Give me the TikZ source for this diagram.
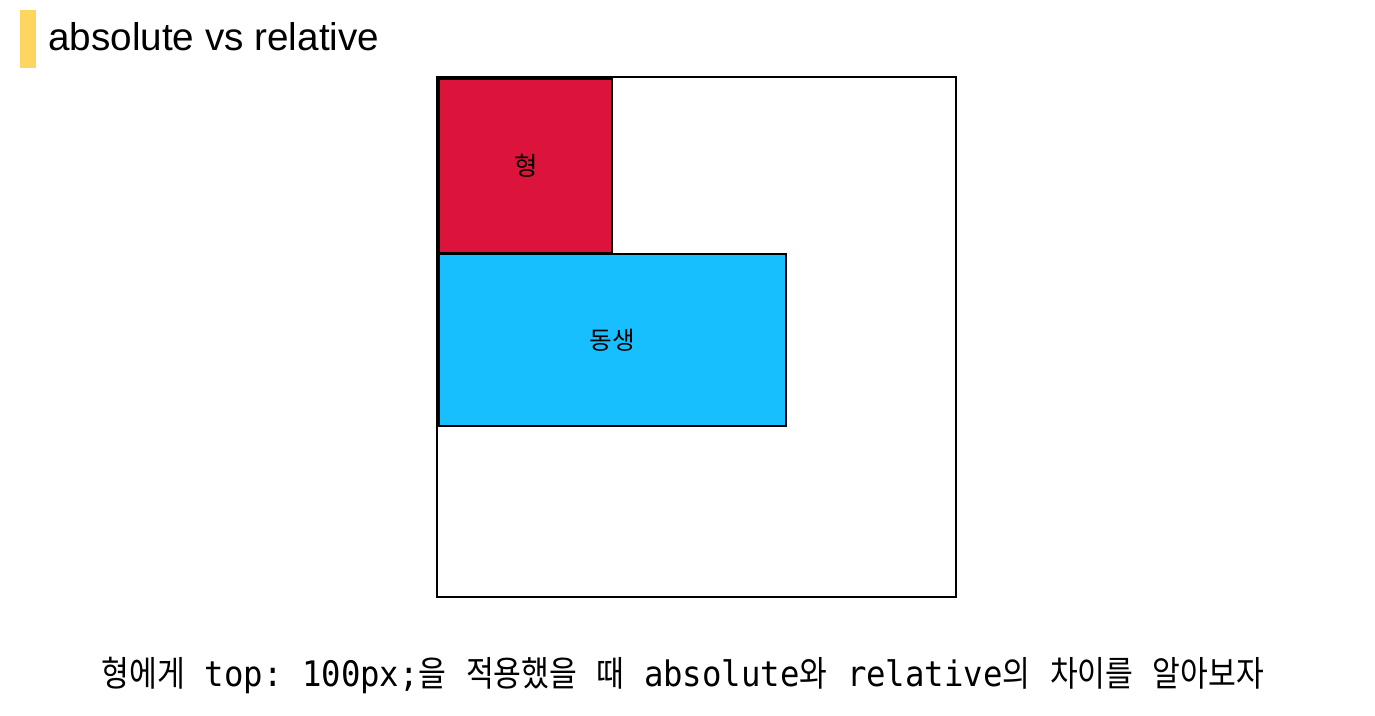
\documentclass[tikz,border=0pt]{standalone}
\usepackage{fontspec}
\setmainfont{Liberation Sans}
\setmonofont{DejaVu Sans Mono}[FakeStretch=0.92]
\newfontfamily\kr{Noto Sans CJK KR}
\newfontfamily\krmono{Noto Sans CJK KR}[FakeStretch=0.86]
\usepackage{tikz}
\definecolor{AmarilloBarra}{RGB}{253,213,95}
\definecolor{RojoHyung}{RGB}{220,20,60}
\definecolor{AzulDongsaeng}{RGB}{24,191,255}

\begin{document}
\begin{tikzpicture}[x=0.02cm,y=-0.02cm]
  \useasboundingbox (0,0) rectangle (1375,716);
  % title
  \fill[AmarilloBarra] (20,10) rectangle (36,68);
  \node[anchor=base west,inner sep=0pt,font=\fontsize{22}{24}\selectfont] (titulo) at (48,51) {absolute vs relative};

  % boxes
  \draw[line width=1.1pt] (437,77) rectangle (956,597);
  \node[draw,line width=1.1pt,fill=AzulDongsaeng,anchor=north west,minimum width=347*0.02cm,minimum height=172*0.02cm,inner sep=0pt,font=\kr\fontsize{14}{16}\selectfont] (dongsaeng) at (438,253) {동생};
  \node[draw,line width=1.4pt,fill=RojoHyung,anchor=north west,minimum width=173*0.02cm,minimum height=174*0.02cm,inner sep=0pt,font=\kr\fontsize{14.5}{16}\selectfont] (hyung) at (438,78) {형};

  % caption
  \node[anchor=base,inner sep=0pt,font=\fontsize{20}{22}\selectfont] (pie) at (683,686)
    {{\krmono 형에게}\texttt{ top: 100px;}{\krmono 을}\texttt{ }{\krmono 적용했을}\texttt{ }{\krmono 때}\texttt{ absolute}{\krmono 와}\texttt{ relative}{\krmono 의}\texttt{ }{\krmono 차이를}\texttt{ }{\krmono 알아보자}};
\end{tikzpicture}
\end{document}
